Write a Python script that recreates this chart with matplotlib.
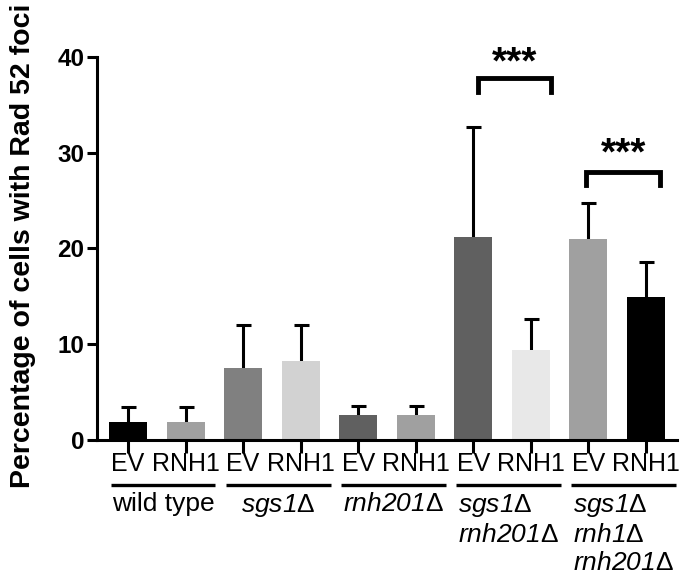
import matplotlib
matplotlib.use("Agg")
import matplotlib.pyplot as plt
import numpy as np

plt.rcParams['font.family'] = ['Liberation Sans', 'DejaVu Sans']
plt.rcParams['mathtext.fontset'] = 'custom'
plt.rcParams['mathtext.rm'] = 'Liberation Sans'

# data
tick_labels = ["EV", "RNH1"] * 5
D = r"$\mathrm{\Delta}$"
groups = ["wild type", "sgs1" + D, "rnh201" + D, "sgs1" + D + "\nrnh201" + D,
          "sgs1" + D + "\nrnh1" + D + "\nrnh201" + D]
means = [1.9, 1.9, 7.5, 8.3, 2.6, 2.6, 21.2, 9.4, 21.0, 14.9]
upper = [3.4, 3.4, 12.0, 12.0, 3.5, 3.5, 32.7, 12.6, 24.7, 18.6]
colors = ["#000000", "#a0a0a0", "#808080", "#d2d2d2", "#606060",
          "#a0a0a0", "#606060", "#e8e8e8", "#a0a0a0", "#000000"]
# significance: (left bar, right bar, bracket height, leg bottom, star height)
sig = [(6, 7, 37.8, 36.3, 39.5), (8, 9, 28.0, 26.6, 30.0)]

fig = plt.figure(figsize=(6.85, 5.81), dpi=100)
ax = fig.add_axes([0.1416, 0.2427, 0.8464, 0.6592])

x = np.arange(len(means))
err = np.array(upper) - np.array(means)
ax.bar(x, means, width=0.66, color=colors, zorder=2)
eb = ax.errorbar(x, means, yerr=[np.zeros_like(err), err], fmt='none',
                 ecolor='black', elinewidth=2.2, capsize=5.4, capthick=2.2,
                 zorder=1)
eb[1][0].set_visible(False)  # no lower caps

ax.set_xlim(-0.54, 9.54)
ax.set_ylim(0, 40)
ax.set_yticks([0, 10, 20, 30, 40])
ax.set_xticks(x)
ax.set_xticklabels(tick_labels, fontsize=18)
for lab in ax.get_yticklabels():
    lab.set_fontsize(17.5)
    lab.set_fontweight('bold')
for s in ['top', 'right']:
    ax.spines[s].set_visible(False)
for s in ['left', 'bottom']:
    ax.spines[s].set_linewidth(2.2)
ax.tick_params(axis='both', width=2.2, length=7, pad=2)
ax.tick_params(axis='x', length=9, pad=0)

# group underlines and labels
for g, name in enumerate(groups):
    x0 = 2 * g - 0.3
    x1 = 2 * g + 1 + 0.52
    ax.plot([x0, x1], [-4.75, -4.75], color='black', lw=2.4,
            clip_on=False, solid_capstyle='butt')
    ax.text((x0 + x1) / 2, -5.4, name, ha='center', va='top', fontsize=19,
            style='italic' if g > 0 else 'normal', multialignment='left',
            linespacing=1.22)

# significance brackets
for a, b, top, bot, star in sig:
    xa = a + 0.08 if a == 6 else a - 0.03
    xb = b + 0.35 if a == 6 else b + 0.25
    ax.plot([xa, xa, xb, xb], [bot, top, top, bot], color='black', lw=3.5,
            clip_on=False, solid_joinstyle='miter')
    ax.text((xa + xb) / 2, star - 1.2, "***", ha='center', va='baseline',
            fontsize=28, fontweight='bold', clip_on=False)

fig.text(23 / 685, (581 - 246) / 581, "Percentage of cells with Rad 52 foci",
         rotation=90, ha='center', va='center', fontsize=20.5, fontweight='bold')

fig.savefig("out.png", dpi=100)
